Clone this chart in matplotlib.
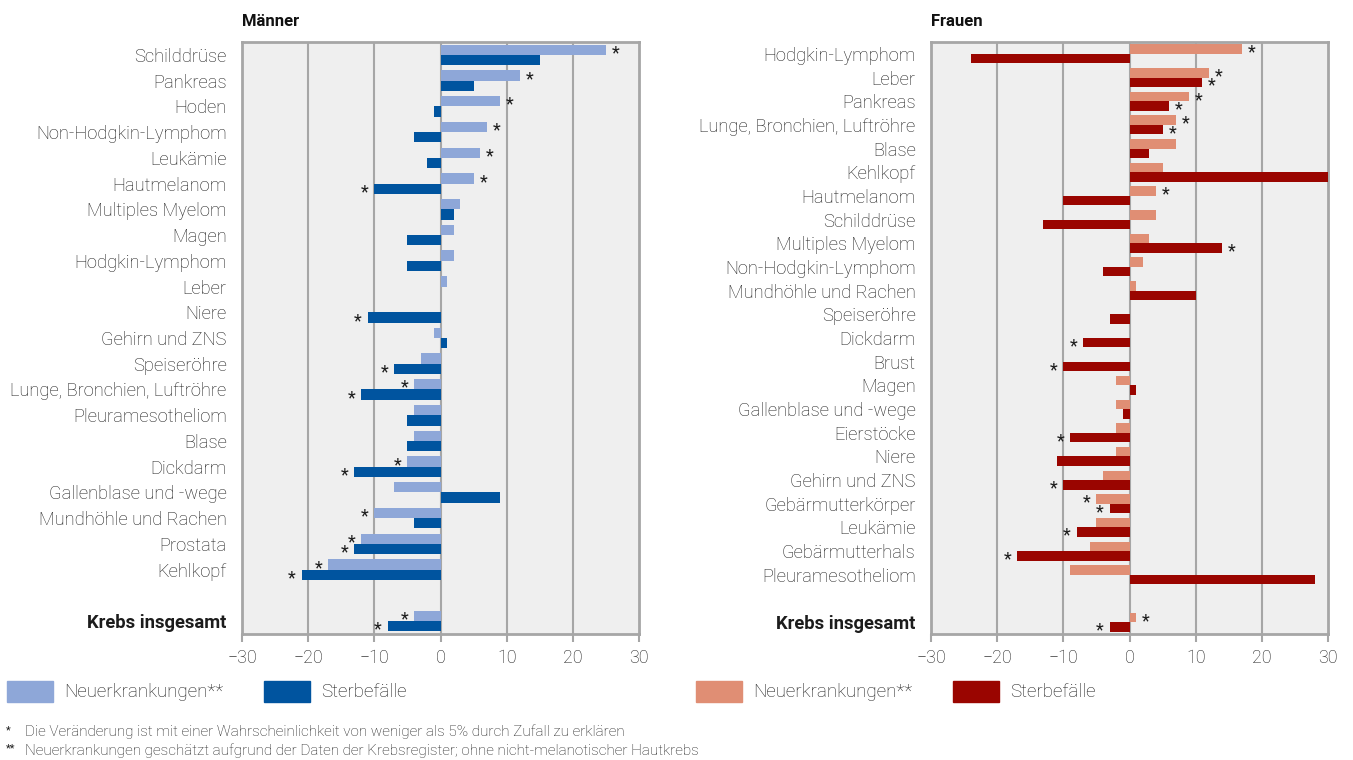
import matplotlib
matplotlib.use('Agg')
import matplotlib.pyplot as plt
from matplotlib.patches import Rectangle

plt.rcParams['font.family'] = ['Roboto', 'DejaVu Sans']

# Männer
m_cats = ["Schilddrüse", "Pankreas", "Hoden", "Non-Hodgkin-Lymphom", "Leukämie",
          "Hautmelanom", "Multiples Myelom", "Magen", "Hodgkin-Lymphom", "Leber",
          "Niere", "Gehirn und ZNS", "Speiseröhre", "Lunge, Bronchien, Luftröhre",
          "Pleuramesotheliom", "Blase", "Dickdarm", "Gallenblase und -wege",
          "Mundhöhle und Rachen", "Prostata", "Kehlkopf", "Krebs insgesamt"]
m_inc = [25, 12, 9, 7, 6, 5, 3, 2, 2, 1, 0, -1, -3, -4, -4, -4, -5, -7, -10, -12, -17, -4]
m_death = [15, 5, -1, -4, -2, -10, 2, -5, -5, 0, -11, 1, -7, -12, -5, -5, -13, 9, -4, -13, -21, -8]
m_inc_star = [1, 1, 1, 1, 1, 1, 0, 0, 0, 0, 0, 0, 0, 1, 0, 0, 1, 0, 1, 1, 1, 1]
m_death_star = [0, 0, 0, 0, 0, 1, 0, 0, 0, 0, 1, 0, 1, 1, 0, 0, 1, 0, 0, 1, 1, 1]

# Frauen
f_cats = ["Hodgkin-Lymphom", "Leber", "Pankreas", "Lunge, Bronchien, Luftröhre", "Blase",
          "Kehlkopf", "Hautmelanom", "Schilddrüse", "Multiples Myelom",
          "Non-Hodgkin-Lymphom", "Mundhöhle und Rachen", "Speiseröhre", "Dickdarm",
          "Brust", "Magen", "Gallenblase und -wege", "Eierstöcke", "Niere",
          "Gehirn und ZNS", "Gebärmutterkörper", "Leukämie", "Gebärmutterhals",
          "Pleuramesotheliom", "Krebs insgesamt"]
f_inc = [17, 12, 9, 7, 7, 5, 4, 4, 3, 2, 1, 0, 0, 0, -2, -2, -2, -2, -4, -5, -5, -6, -9, 1]
f_death = [-24, 11, 6, 5, 3, 30, -10, -13, 14, -4, 10, -3, -7, -10, 1, -1, -9, -11, -10, -3, -8, -17, 28, -3]
f_inc_star = [1, 1, 1, 1, 0, 0, 1, 0, 0, 0, 0, 0, 0, 0, 0, 0, 0, 0, 0, 1, 0, 0, 0, 1]
f_death_star = [0, 1, 1, 1, 0, 0, 0, 0, 1, 0, 0, 0, 1, 1, 0, 0, 1, 0, 1, 1, 1, 1, 0, 1]

legend_labels = ["Neuerkrankungen**", "Sterbefälle"]
ticks = [-30, -20, -10, 0, 10, 20, 30]

TXT = '#1c1c1c'
GRID = '#a6a6a6'

fig = plt.figure(figsize=(13.53, 7.6), dpi=100)


def panel(rect, title, cats, inc, death, inc_star, death_star, c_inc, c_death):
    ax = fig.add_axes(rect)
    ax.set_facecolor('#efefef')
    n = len(cats)
    pos = list(range(n - 1)) + [n]   # gap before total
    h = 0.4
    ax.barh([p - 0.2 for p in pos], inc, height=h, color=c_inc, zorder=3)
    ax.barh([p + 0.2 for p in pos], death, height=h, color=c_death, zorder=3)
    for p, v, s in zip(pos, inc, inc_star):
        if s:
            off = 7 if v >= 0 else -7
            ax.annotate('*', (v, p - 0.2), xytext=(off, -2.5), textcoords='offset points',
                        ha='center', va='center', fontsize=13, color=TXT, zorder=4)
    for p, v, s in zip(pos, death, death_star):
        if s:
            off = 7 if v >= 0 else -7
            ax.annotate('*', (v, p + 0.2), xytext=(off, -2.5), textcoords='offset points',
                        ha='center', va='center', fontsize=13, color=TXT, zorder=4)
    ax.set_xlim(-30, 30)
    ax.set_ylim(n + 0.5, -0.5)
    ax.set_xticks(ticks)
    ax.set_xticklabels(['\u2212' + str(-t) if t < 0 else str(t) for t in ticks])
    ax.set_yticks(pos)
    ax.set_yticklabels(cats)
    for lab in ax.get_yticklabels() + ax.get_xticklabels():
        lab.set_fontweight('light')
    ax.get_yticklabels()[-1].set_fontweight('bold')
    ax.tick_params(axis='y', length=0, pad=11, labelsize=13.2, labelcolor=TXT)
    ax.tick_params(axis='x', length=6, width=1.5, color=GRID, labelsize=12.8,
                   labelcolor=TXT, pad=5)
    for t in [-20, -10, 0, 10, 20]:
        ax.axvline(t, color=GRID, lw=1.5, zorder=2)
    for sp in ax.spines.values():
        sp.set_color(GRID)
        sp.set_linewidth(2)
    ax.text(0, 1.022, title, transform=ax.transAxes, fontsize=12, fontweight='bold',
            color='#111111', ha='left', va='bottom')
    return ax


panel([242 / 1353, 126 / 760, 397 / 1353, 592 / 760], "Männer",
      m_cats, m_inc, m_death, m_inc_star, m_death_star, '#8ea7d8', '#00549f')
panel([931 / 1353, 126 / 760, 397 / 1353, 592 / 760], "Frauen",
      f_cats, f_inc, f_death, f_inc_star, f_death_star, '#e08e74', '#9a0500')

# legend
W, H = 1353.0, 760.0
leg = [(7, 46, 64, '#8ea7d8', legend_labels[0]), (264, 46, 321, '#00549f', legend_labels[1]),
       (696, 46, 753, '#e08e74', legend_labels[0]), (953, 46, 1010, '#9a0500', legend_labels[1])]
for x0, w, xt, c, lab in leg:
    fig.patches.append(Rectangle((x0 / W, 1 - 702 / H), w / W, 21 / H, color=c,
                                 transform=fig.transFigure, figure=fig))
    fig.text(xt / W, 1 - 692 / H, lab, fontsize=13.5, fontweight='light', color=TXT,
             va='center', ha='left')

fig.text(6 / W, 1 - 730 / H, '*', fontsize=8, color=TXT, va='center')
fig.text(25 / W, 1 - 732 / H,
         'Die Veränderung ist mit einer Wahrscheinlichkeit von weniger als 5% durch Zufall zu erklären',
         fontsize=11, fontweight='light', color=TXT, va='center')
fig.text(6 / W, 1 - 748 / H, '**', fontsize=8, color=TXT, va='center')
fig.text(25 / W, 1 - 751 / H,
         'Neuerkrankungen geschätzt aufgrund der Daten der Krebsregister; ohne nicht-melanotischer Hautkrebs',
         fontsize=11, fontweight='light', color=TXT, va='center')

fig.savefig('out.png', dpi=100)
